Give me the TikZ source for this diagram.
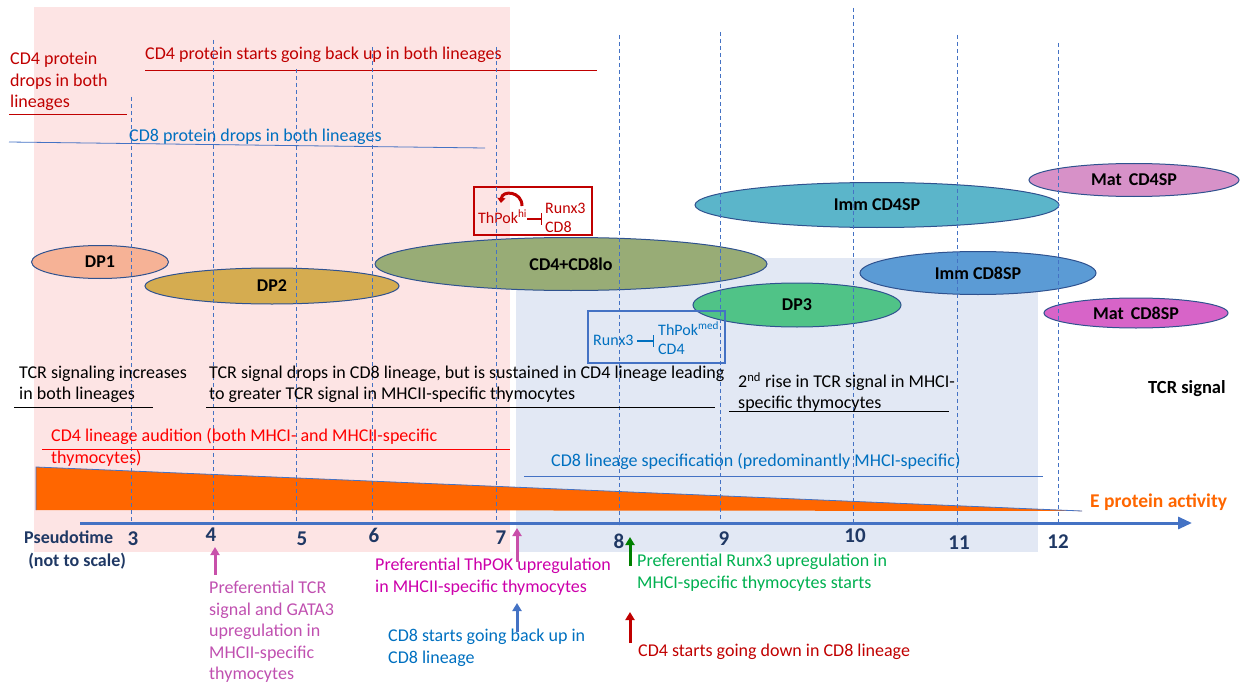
\documentclass[tikz,border=0pt]{standalone}
\usepackage{fontspec}
\setmainfont{Carlito}
\usetikzlibrary{shapes.geometric,arrows.meta}
\definecolor{pinkbg}{RGB}{253,228,228}
\definecolor{bluebg}{RGB}{226,232,244}
\definecolor{lineblue}{RGB}{68,114,196}
\definecolor{textblue}{RGB}{0,112,192}
\definecolor{darkred}{RGB}{192,0,0}
\definecolor{brightred}{RGB}{255,0,0}
\definecolor{axisnum}{RGB}{31,56,100}
\definecolor{eorange}{RGB}{255,102,0}
\definecolor{cellline}{RGB}{47,82,143}
\definecolor{dpone}{RGB}{246,178,150}
\definecolor{dptwo}{RGB}{213,172,80}
\definecolor{dplo}{RGB}{152,172,118}
\definecolor{dpthree}{RGB}{80,195,135}
\definecolor{immfour}{RGB}{91,181,202}
\definecolor{immeight}{RGB}{91,155,213}
\definecolor{matfour}{RGB}{215,145,200}
\definecolor{mateight}{RGB}{215,100,200}
\definecolor{gatamag}{RGB}{192,80,176}
\definecolor{thpokmag}{RGB}{204,0,170}
\definecolor{pinkarrow}{RGB}{200,80,170}
\definecolor{runxgreen}{RGB}{0,176,80}
\definecolor{arrowgreen}{RGB}{0,128,0}
\begin{document}
\begin{tikzpicture}[x=1pt,y=-1pt,
  txt/.style={inner sep=0pt,font=\fontsize{18}{21.5}\selectfont,align=left},
  cell/.style={ellipse,draw=cellline,line width=1pt,inner sep=0pt,font=\fontsize{18}{20}\selectfont\bfseries},
  tick/.style={lineblue,line width=1pt,dash pattern=on 4pt off 3pt},
  num/.style={inner sep=0pt,font=\fontsize{21}{24}\selectfont\bfseries,text=axisnum},
  up/.style={-{Triangle[width=9pt,length=8pt]},line width=3pt},
  small/.style={inner sep=0pt,font=\fontsize{16}{19}\selectfont,align=left}]
\useasboundingbox (0,0) rectangle (1241,687);
\fill[pinkbg] (34,7) rectangle (510,552);
\fill[bluebg] (516,258) rectangle (1038,552);
\node[txt,anchor=west,text=darkred] (cdfourup) at (145,55) {CD4 protein starts going back up in both lineages};
\draw[darkred,line width=0.8pt] (145,70) -- (597,70);
\node[txt,anchor=west,text=darkred] (cdfourdrop) at (10,81.5) {CD4 protein\\drops in both\\lineages};
\draw[darkred,line width=0.8pt] (9,114) -- (127,114);
\node[txt,anchor=west,text=textblue] (cdeightdrop) at (129,137) {CD8 protein drops in both lineages};
\draw[lineblue,line width=0.8pt] (9,142) -- (485,148);
\fill[eorange] (36,467) -- (1082,511) -- (36,510) -- cycle;
\draw[lineblue,line width=0.8pt] (36,510) -- (36,467) -- (1082,511);
\node[cell,fill=dpone,minimum width=137pt,minimum height=33pt] (dp1) at (100,262) {DP1};
\node[cell,fill=dptwo,minimum width=254pt,minimum height=36pt] (dp2) at (272,286) {DP2};
\node[cell,fill=dplo,minimum width=392pt,minimum height=53pt] (dplo) at (571,264) {CD4+CD8lo};
\node[cell,fill=immfour,minimum width=364pt,minimum height=45pt] (imm4) at (877,205) {Imm CD4SP};
\node[cell,fill=matfour,minimum width=210pt,minimum height=33pt] (mat4) at (1134,180) {Mat\, CD4SP};
\node[cell,fill=immeight,minimum width=236pt,minimum height=43pt] (imm8) at (978,273) {Imm CD8SP};
\node[cell,fill=dpthree,minimum width=208pt,minimum height=44pt] (dp3) at (797,305) {DP3};
\node[cell,fill=mateight,minimum width=184pt,minimum height=30pt] (mat8) at (1136,313) {Mat\, CD8SP};
\node[draw=darkred,line width=1.5pt,minimum width=118pt,minimum height=48pt,inner sep=0pt] (hibox) at (533,211) {};
\node[small,anchor=west,text=darkred] (thpokhi) at (478,217) {ThPok\textsuperscript{hi}};
\node[small,anchor=west,text=darkred] (runxa) at (545,208) {Runx3};
\node[small,anchor=west,text=darkred] (cdeighta) at (545,227) {CD8};
\coordinate (hibar) at (542,219);
\draw[darkred,line width=1.2pt,-{Bar[width=12pt]}] ([yshift=-2pt]thpokhi.east) -- (hibar);
\draw[darkred,line width=3pt,-{Triangle[width=8pt,length=5pt]}] (522,206) .. controls (522,191) and (502,190) .. (501,203);
\node[draw=lineblue,line width=1.5pt,minimum width=137pt,minimum height=52pt,inner sep=0pt] (medbox) at (656.5,337) {};
\node[small,anchor=west,text=textblue] (runxb) at (593,340) {Runx3};
\coordinate (medbar) at (654,341);
\draw[textblue,line width=1.2pt,-{Bar[width=12pt]}] ([xshift=3pt]runxb.east |- medbar) -- (medbar);
\node[small,anchor=west,text=textblue] (thpokmed) at (658,329) {ThPok\textsuperscript{med}};
\node[small,anchor=west,text=textblue] (cdfourb) at (658,349) {CD4};
\foreach \x/\t in {131/97,213/40,296/69,372/47,496/47,619/35,720/32,853/8,957/35,1058/43}
  \draw[tick] (\x,\t) -- (\x,525);
\node[txt,anchor=west] (tcrinc) at (19,384.5) {TCR signaling increases\\in both lineages};
\draw[line width=0.8pt] (14,407) -- (153,407);
\node[txt,anchor=west] (tcrdrop) at (209,384.5) {TCR signal drops in CD8 lineage, but is sustained in CD4 lineage leading\\to greater TCR signal in MHCII-specific thymocytes};
\draw[line width=0.8pt] (206,407) -- (715,407);
\node[txt,anchor=west] (tcrrise) at (738,392) {2\textsuperscript{nd} rise in TCR signal in MHCI-\\specific thymocytes};
\draw[line width=0.8pt] (729,411) -- (949,411);
\node[inner sep=0pt,anchor=west,font=\fontsize{18.5}{20}\selectfont\bfseries] (tcrsig) at (1148,389) {TCR signal};
\node[txt,anchor=west,text=brightred] (audition) at (51,447.5) {CD4 lineage audition (both MHCI- and MHCII-specific\\thymocytes)};
\draw[brightred,line width=0.8pt] (42,449) -- (510,449);
\node[txt,anchor=west,text=textblue] (spec) at (551,461) {CD8 lineage specification (predominantly MHCI-specific)};
\draw[lineblue,line width=0.8pt] (524,476) -- (1043,476);
\node[inner sep=0pt,anchor=west,font=\fontsize{19.5}{22}\selectfont\bfseries,text=eorange] (eprot) at (1090,502) {E protein activity};
\draw[lineblue,line width=3pt,-{Triangle[width=12pt,length=14pt]}] (80,523) -- (1192,523);
\foreach \n/\x/\y in {3/133/539,4/211/535,5/302/539,6/374/535,7/501/538,8/619/541,9/724/539,10/855/536,11/959/543,12/1058/542}
  \node[num] (n\n) at (\x,\y) {\n};
\node[inner sep=0pt,align=left,anchor=west,font=\fontsize{18}{23}\selectfont\bfseries,text=axisnum] (ptime) at (24,550.5) {Pseudotime\\\ (not to scale)};
\node[txt,anchor=north west,text=gatamag] (gata) at (209,581) {Preferential TCR\\signal and GATA3\\upregulation in\\MHCII-specific\\thymocytes};
\coordinate (pfour) at (215,547);
\draw[up,pinkarrow] ([xshift=6pt,yshift=6pt]gata.north west) -- (pfour);
\node[txt,anchor=north west,text=thpokmag] (thpoktxt) at (375,558) {Preferential ThPOK upregulation\\in MHCII-specific thymocytes};
\coordinate (pseven) at (517,528);
\draw[up,pinkarrow] ([yshift=-4pt]thpoktxt.north -| pseven) -- (pseven);
\node[txt,anchor=north west,text=textblue] (cdeightup) at (388,629) {CD8 starts going back up in\\CD8 lineage};
\coordinate (bseven) at (517,603);
\draw[up,lineblue] ([yshift=-3pt]cdeightup.north -| bseven) -- (bseven);
\node[txt,anchor=north west,text=runxgreen] (runxtxt) at (637,554) {Preferential Runx3 upregulation in\\MHCI-specific thymocytes starts};
\coordinate (geight) at (630,537);
\draw[up,arrowgreen] ([yshift=7pt]runxtxt.west -| geight) -- (geight);
\node[txt,anchor=west,text=darkred] (cdfourdown) at (638,652) {CD4 starts going down in CD8 lineage};
\coordinate (reight) at (630,612);
\draw[up,darkred] ([yshift=9pt]cdfourdown.west -| reight) -- (reight);
\end{tikzpicture}
\end{document}
